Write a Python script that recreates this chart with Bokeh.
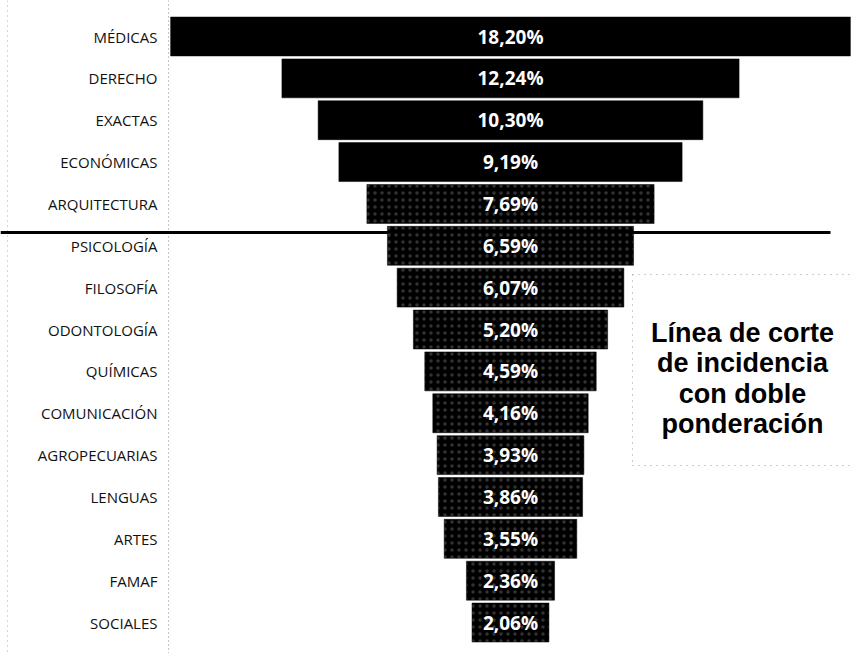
from bokeh.plotting import figure
from bokeh.models import Range1d, ColumnDataSource
from bokeh.core.properties import value
from bokeh.embed import file_html
from bokeh.resources import INLINE

# ---- data ----
categorias = ["MÉDICAS", "DERECHO", "EXACTAS", "ECONÓMICAS", "ARQUITECTURA",
              "PSICOLOGÍA", "FILOSOFÍA", "ODONTOLOGÍA", "QUÍMICAS", "COMUNICACIÓN",
              "AGROPECUARIAS", "LENGUAS", "ARTES", "FAMAF", "SOCIALES"]
valores = [18.20, 12.24, 10.30, 9.19, 7.69, 6.59, 6.07, 5.20, 4.59, 4.16,
           3.93, 3.86, 3.55, 2.36, 2.06]
nota = ["Línea de corte", "de incidencia", "con doble", "ponderación"]
corte_despues_de = 4  # line between ARQUITECTURA and PSICOLOGÍA

etiquetas = [f"{v:.2f}".replace(".", ",") + "%" for v in valores]
filas = list(range(len(categorias)))
trama = [" " if i < 4 else "." for i in filas]

src = ColumnDataSource(dict(
    y=filas, cat=categorias, lab=etiquetas,
    left=[-v / 2 for v in valores], right=[v / 2 for v in valores],
    trama=trama,
))

W, H = 851, 653
K = 37.35      # px per percentage point
ROW = 41.86    # px per row
CX, CY = 510, 36
def dx(px):
    return (px - CX) / K
def dy(px):
    return (px - CY) / ROW

p = figure(width=W, height=H, output_backend="svg", toolbar_location=None,
           x_range=Range1d(-CX / K, (W - CX) / K),
           y_range=Range1d((H - CY) / ROW, -CY / ROW),
           min_border_left=0, min_border_right=0, min_border_top=0, min_border_bottom=0)
p.xaxis.visible = False
p.yaxis.visible = False
p.grid.visible = False
p.outline_line_color = None
p.background_fill_color = "white"
p.border_fill_color = "white"

# dotted guide lines
p.segment(x0=dx(168), x1=dx(168), y0=dy(0), y1=dy(660),
          line_color="#8a8a8a", line_dash="1 3", line_width=1)
p.segment(x0=dx(7), x1=dx(7), y0=dy(0), y1=dy(660),
          line_color="#aaaaaa", line_dash="1 4", line_width=1)

# cut line
ycut = corte_despues_de + (232 - CY - corte_despues_de * ROW) / ROW
p.segment(x0=dx(0), x1=dx(830), y0=ycut, y1=ycut, line_color="black", line_width=3)

# bars
p.hbar(y="y", left="left", right="right", height=0.93, source=src,
       fill_color="black", line_color="black", line_width=0.5,
       hatch_pattern="trama", hatch_color="white", hatch_alpha=0.2,
       hatch_scale=7, hatch_weight=0.8)

# value labels
p.text(x=0, y="y", text="lab", source=src, text_color="white",
       text_font=value("Open Sans"), text_font_size="19px", text_font_style="bold",
       text_align="center", text_baseline="middle")

# category labels
p.text(x=dx(157), y="y", text="cat", source=src, text_color="#111111",
       text_font=value("Open Sans"), text_font_size="15px",
       text_align="right", text_baseline="middle")

# dotted box for note
p.segment(x0=[dx(632), dx(632), dx(632)], x1=[dx(632), dx(860), dx(860)],
          y0=[dy(274), dy(274), dy(465)], y1=[dy(465), dy(274), dy(465)],
          line_color="#999999", line_dash="1 5", line_width=1)

# note text
baselines = [332, 362.5, 393, 423.5]
p.text(x=[dx(742)] * len(nota), y=[dy(b) for b in baselines], text=nota,
       text_color="black", text_font=value("Liberation Sans"),
       text_font_size="27px", text_font_style="bold",
       text_align="center", text_baseline="alphabetic")

open("out.html", "w").write(file_html(p, INLINE))
